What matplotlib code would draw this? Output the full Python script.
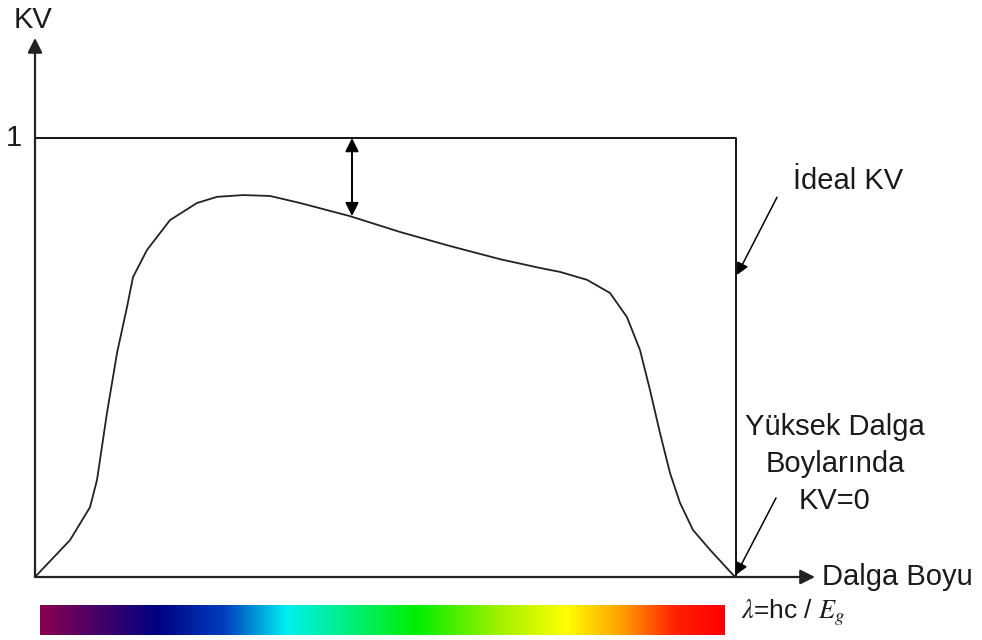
import matplotlib.pyplot as plt
import numpy as np
from matplotlib.colors import LinearSegmentedColormap

plt.rcParams['font.family'] = ['Liberation Sans', 'DejaVu Sans']
plt.rcParams['mathtext.fontset'] = 'stix'

# wavelength (arbitrary units, cut-off at 701) and quantum efficiency (KV)
wl = [0, 35, 55, 62, 72, 82, 92, 98, 112, 135, 162, 182, 208, 235, 265, 315,
      365, 415, 465, 505, 525, 552, 575, 592, 605, 615, 625, 635, 645, 658,
      675, 698, 701]
kv = [0.0, 0.084, 0.159, 0.221, 0.374, 0.510, 0.615, 0.683, 0.745, 0.813,
      0.852, 0.866, 0.870, 0.868, 0.852, 0.822, 0.786, 0.754, 0.724, 0.704,
      0.695, 0.677, 0.647, 0.592, 0.517, 0.426, 0.328, 0.237, 0.169, 0.107,
      0.062, 0.005, 0.0]

cutoff = 701
ideal_kv = 1.0

# spectrum colour stops
spec_pos = [0.0, 0.17, 0.27, 0.36, 0.55, 0.67, 0.77, 0.85, 0.93, 1.0]
spec_col = ['#8a0050', '#000080', '#0040c0', '#00f0f0', '#00ee00', '#a0f000',
            '#ffff00', '#ffa000', '#ff2000', '#ff0000']

fig = plt.figure(figsize=(9.82, 6.4), dpi=100)
ax = fig.add_axes([0, 0, 1, 1])
ax.set_xlim(-35, 947)
ax.set_ylim(-0.1435, 1.3144)
ax.axis('off')

axc = '#222222'
# axes with arrows
ax.annotate('', xy=(0, 1.228), xytext=(0, 0),
            arrowprops=dict(arrowstyle='-|>', mutation_scale=22, lw=1.6, color=axc,
                            shrinkA=0, shrinkB=0))
ax.annotate('', xy=(780, 0), xytext=(0, 0),
            arrowprops=dict(arrowstyle='-|>', mutation_scale=22, lw=1.6, color=axc,
                            shrinkA=0, shrinkB=0))

# ideal KV box
ax.plot([0, cutoff, cutoff], [ideal_kv, ideal_kv, 0], color='black', lw=1.3)

# real KV curve
ax.plot(wl, kv, color='#222222', lw=1.3)

# loss arrow
ax.annotate('', xy=(317, 0.822), xytext=(317, ideal_kv),
            arrowprops=dict(arrowstyle='<|-|>', mutation_scale=20, lw=1.4, color='black',
                            shrinkA=0, shrinkB=0))

# pointer arrows
ax.annotate('', xy=(702, 0.688), xytext=(742, 0.865),
            arrowprops=dict(arrowstyle='-|>', mutation_scale=18, lw=1.1, color='black',
                            shrinkA=0, shrinkB=0))
ax.annotate('', xy=(701, 0.005), xytext=(741, 0.18),
            arrowprops=dict(arrowstyle='-|>', mutation_scale=18, lw=1.1, color='black',
                            shrinkA=0, shrinkB=0))

fs = 21
tc = '#1a1a1a'
ax.text(-21, 1.269, 'KV', fontsize=fs, ha='left', va='center', color=tc)
ax.text(-21, 1.0, '1', fontsize=fs, ha='center', va='center', color=tc)
ax.text(787, 0, 'Dalga Boyu', fontsize=fs, ha='left', va='center', color=tc)
ax.text(813, 0.902, 'İdeal KV', fontsize=fs, ha='center', va='center', color=tc)
ax.text(800, 0.258, 'Yüksek Dalga\nBoylarında\nKV=0', fontsize=fs, ha='center',
        va='center', linespacing=1.42, color=tc)
ax.text(706, -0.082, r'$\lambda$=hc / $E_g$', fontsize=19, ha='left', va='center',
        color=tc)

# spectrum bar
cmap = LinearSegmentedColormap.from_list('spec', list(zip(spec_pos, spec_col)))
grad = np.linspace(0, 1, 512)[None, :]
ax.imshow(grad, cmap=cmap, aspect='auto', extent=[5, 690, -0.132, -0.064],
          interpolation='bilinear')

fig.savefig('out.png', dpi=100)
